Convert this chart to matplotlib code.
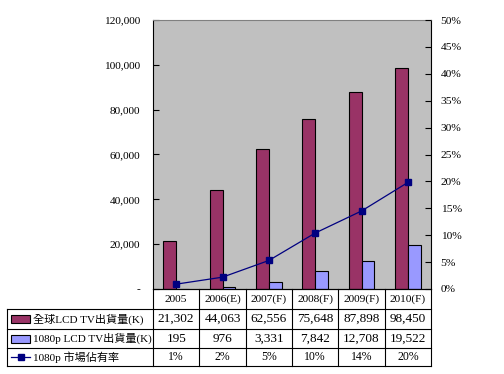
import matplotlib
matplotlib.use("Agg")
import matplotlib.pyplot as plt
from matplotlib.ticker import FuncFormatter
from matplotlib.patches import Rectangle
from matplotlib.lines import Line2D

plt.rcParams['font.family'] = ['Liberation Serif', 'Noto Sans CJK TC', 'DejaVu Sans']
plt.rcParams['font.size'] = 8.2

years = ['2005', '2006(E)', '2007(F)', '2008(F)', '2009(F)', '2010(F)']
lcd_total = [21302, 44063, 62556, 75648, 87898, 98450]
lcd_1080p = [195, 976, 3331, 7842, 12708, 19522]
share_1080p = [0.9, 2.2, 5.3, 10.4, 14.5, 19.8]
share_labels = ['1%', '2%', '5%', '10%', '14%', '20%']
series_names = ['全球LCD TV出貨量(K)', '1080p LCD TV出貨量(K)', '1080p 市場佔有率']

c_total = '#993366'
c_1080 = '#9999FF'
c_line = '#000080'

fig = plt.figure(figsize=(5.04, 3.74), dpi=100)
ax = fig.add_axes([153 / 504, 1 - 289 / 374, 278 / 504, 269 / 374])
ax.set_facecolor('#C0C0C0')

xs = list(range(len(years)))
bw = 0.28
ax.bar([x - bw / 2 for x in xs], lcd_total, bw, color=c_total, edgecolor='black', linewidth=0.8)
ax.bar([x + bw / 2 for x in xs], lcd_1080p, bw, color=c_1080, edgecolor='black', linewidth=0.8)
ax.set_xlim(-0.5, 5.5)
ax.set_ylim(0, 120000)
ax.set_yticks(range(0, 120001, 20000))
ax.yaxis.set_major_formatter(FuncFormatter(lambda v, p: '-' if v == 0 else f'{int(v):,}'))
ax.set_xticks([])
ax.tick_params(axis='y', direction='in', length=4, width=0.8, pad=9)
ax.spines['top'].set_color('#808080')
ax.spines['left'].set_linewidth(0.8)
ax.spines['bottom'].set_linewidth(0.8)
ax.spines['right'].set_linewidth(0.8)

ax2 = ax.twinx()
ax2.plot(xs, share_1080p, color=c_line, linewidth=0.9, marker='s', markersize=4.5)
ax2.set_ylim(0, 50)
ax2.set_yticks(range(0, 51, 5))
ax2.yaxis.set_major_formatter(FuncFormatter(lambda v, p: f'{int(v)}%'))
ax2.tick_params(axis='y', direction='in', length=4, width=0.8, pad=7)
for s in ax2.spines.values():
    s.set_visible(False)

# data table below the plot area (axes fraction coordinates)
ph = 269.0
rows_y = [0, -20 / ph, -40 / ph, -59 / ph, -77 / ph]
left_x = -(153 - 7) / 278
T = ax.transAxes
kw = dict(transform=T, clip_on=False, color='black', linewidth=0.8)
for i in range(7):
    ax.add_line(Line2D([i / 6, i / 6], [rows_y[0], rows_y[-1]], **kw))
for j, y in enumerate(rows_y):
    x0 = 0 if j == 0 else left_x
    ax.add_line(Line2D([x0, 1], [y, y], **kw))
ax.add_line(Line2D([left_x, left_x], [rows_y[1], rows_y[-1]], **kw))

cells = [years,
         [f'{v:,}' for v in lcd_total],
         [f'{v:,}' for v in lcd_1080p],
         share_labels]
sizes = [8.2, 9.5, 9.5, 8.5]
for r, row in enumerate(cells):
    yc = (rows_y[r] + rows_y[r + 1]) / 2
    for i, txt in enumerate(row):
        ax.text((i + 0.5) / 6, yc, txt, transform=T, ha='center', va='center', fontsize=sizes[r])

# row labels with legend keys
kx0 = left_x + 4 / 278
kw_px = 19 / 278
for r, name in enumerate(series_names, start=1):
    yc = (rows_y[r] + rows_y[r + 1]) / 2
    if r < 3:
        col = c_total if r == 1 else c_1080
        ax.add_patch(Rectangle((kx0, yc - 4 / ph), kw_px, 8 / ph, transform=T, clip_on=False,
                               facecolor=col, edgecolor='black', linewidth=0.8))
    else:
        ax.add_line(Line2D([kx0, kx0 + kw_px], [yc, yc], transform=T, clip_on=False,
                           color=c_line, linewidth=0.9))
        ax.add_line(Line2D([kx0 + kw_px / 2], [yc], transform=T, clip_on=False,
                           color=c_line, marker='s', markersize=4.5))
    ax.text(kx0 + kw_px + 3 / 278, yc, name, transform=T, ha='left', va='center', fontsize=8)

fig.savefig('out.png', dpi=100)
